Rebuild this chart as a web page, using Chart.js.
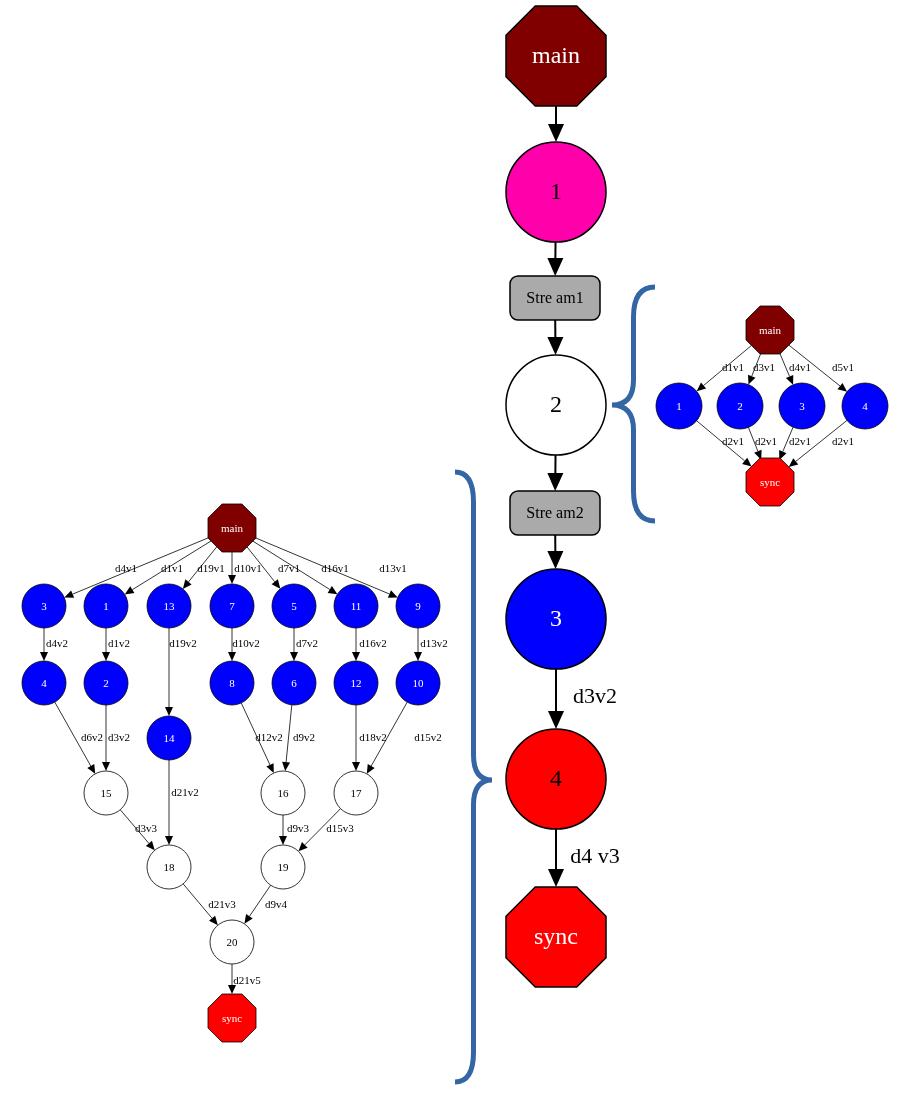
<!DOCTYPE html>
<html>
<head>
<meta charset="utf-8">
<script src="https://cdn.jsdelivr.net/npm/chart.js@4"></script>
<style>
  body { margin: 0; background: #fff; }
  #wrap { width: 904px; height: 1096px; }
</style>
</head>
<body>
<div id="wrap"><canvas id="graph" width="904" height="1096"></canvas></div>
<script>
// Nodes: [id, label, x, y, size, shape, fill, textColor, fontSize]
const nodeIds = ['M','M1','S1','M2','S2','M3','M4','MS',
  'tm','t1','t2','t3','t4','ts',
  'lm','l3','l1','l13','l7','l5','l11','l9','l4','l2','l8','l6','l12','l10','l14',
  'l15','l16','l17','l18','l19','l20','ls'];
const nodeLabels = ['main','1','Stre am1','2','Stre am2','3','4','sync',
  'main','1','2','3','4','sync',
  'main','3','1','13','7','5','11','9','4','2','8','6','12','10','14',
  '15','16','17','18','19','20','sync'];
const nodeX = [556,556,555,556,555,556,556,556,
  770,679,740,802,865,770,
  232,44,106,169,232,294,356,418,44,106,232,294,356,418,169,
  106,283,356,169,283,232,232];
const nodeY = [56,192,298,405,513,619,779,937,
  330,406,406,406,406,482,
  528,606,606,606,606,606,606,606,683,683,683,683,683,683,738,
  793,793,793,867,867,942,1018];
const nodeSize = [50,50,22,50,22,50,50,50,
  24,23,23,23,23,24,
  24,22,22,22,22,22,22,22,22,22,22,22,22,22,22,
  22,22,22,22,22,22,24];
const nodeShape = ['oct','circle','rect','circle','rect','circle','circle','oct',
  'oct','circle','circle','circle','circle','oct',
  'oct','circle','circle','circle','circle','circle','circle','circle','circle','circle','circle','circle','circle','circle','circle',
  'circle','circle','circle','circle','circle','circle','oct'];
const nodeFill = ['#800000','#ff00aa','#aaaaaa','#ffffff','#aaaaaa','#0000ff','#ff0000','#ff0000',
  '#800000','#0000ff','#0000ff','#0000ff','#0000ff','#ff0000',
  '#800000','#0000ff','#0000ff','#0000ff','#0000ff','#0000ff','#0000ff','#0000ff','#0000ff','#0000ff','#0000ff','#0000ff','#0000ff','#0000ff','#0000ff',
  '#ffffff','#ffffff','#ffffff','#ffffff','#ffffff','#ffffff','#ff0000'];

// Edges: [from, to, label, labelX, labelY]
const edgeFrom = ['M','M1','S1','M2','S2','M3','M4',
  'tm','tm','tm','tm','t1','t2','t3','t4',
  'lm','lm','lm','lm','lm','lm','lm',
  'l3','l1','l13','l7','l5','l11','l9',
  'l4','l2','l14','l8','l6','l12','l10',
  'l15','l16','l17','l18','l19','l20'];
const edgeTo = ['M1','S1','M2','S2','M3','M4','MS',
  't1','t2','t3','t4','ts','ts','ts','ts',
  'l3','l1','l13','l7','l5','l11','l9',
  'l4','l2','l14','l8','l6','l12','l10',
  'l15','l15','l18','l16','l16','l17','l17',
  'l18','l19','l19','l20','l20','ls'];
const edgeLabels = ['','','','','','d3v2','d4 v3',
  'd1v1','d3v1','d4v1','d5v1','d2v1','d2v1','d2v1','d2v1',
  'd4v1','d1v1','d19v1','d10v1','d7v1','d16v1','d13v1',
  'd4v2','d1v2','d19v2','d10v2','d7v2','d16v2','d13v2',
  'd6v2','d3v2','d21v2','d12v2','d9v2','d18v2','d15v2',
  'd3v3','d9v3','d15v3','d21v3','d9v4','d21v5'];
const edgeLabelX = [0,0,0,0,0,595,595,
  733,764,800,843,733,766,800,843,
  126,172,211,248,289,335,393,
  57,119,183,246,307,373,434,
  92,119,185,269,304,373,428,
  146,298,340,222,276,247];
const edgeLabelY = [0,0,0,0,0,697,857,
  368,368,368,368,442,442,442,442,
  569,569,569,569,569,569,569,
  644,644,644,644,644,644,644,
  738,738,793,738,738,738,738,
  829,829,829,905,905,981];

// Braces: [topX, topY, tipX, tipY, bottomY]
const braces = [[655,287,612,405,521],[455,472,492,780,1082]];

const serif = '"Liberation Serif", "DejaVu Serif", serif';

function octPath(ctx, x, y, r) {
  const R = r / Math.cos(Math.PI / 8);
  ctx.beginPath();
  for (let k = 0; k < 8; k++) {
    const a = Math.PI / 8 + k * Math.PI / 4;
    const px = x + R * Math.cos(a), py = y + R * Math.sin(a);
    k ? ctx.lineTo(px, py) : ctx.moveTo(px, py);
  }
  ctx.closePath();
}

function rectPath(ctx, x, y, h) {
  const w = 45, r = 8;
  ctx.beginPath();
  ctx.roundRect(x - w, y - h, 2 * w, 2 * h, r);
}

const graphPlugin = {
  id: 'graph',
  beforeDatasetsDraw(chart) {
    const ctx = chart.ctx, sx = chart.scales.x, sy = chart.scales.y;
    const px = i => sx.getPixelForValue(nodeX[i]);
    const py = i => sy.getPixelForValue(nodeY[i]);
    ctx.save();
    // braces
    ctx.strokeStyle = '#3465a4';
    ctx.lineWidth = 5;
    braces.forEach(([tx, ty, kx, ky, by]) => {
      const x0 = sx.getPixelForValue(tx), y0 = sy.getPixelForValue(ty);
      const x1 = sx.getPixelForValue(kx), y1 = sy.getPixelForValue(ky);
      const y2 = sy.getPixelForValue(by);
      const mid = (x0 + x1) / 2;
      ctx.beginPath();
      ctx.moveTo(x0, y0);
      ctx.quadraticCurveTo(mid, y0, mid, y0 + 30);
      ctx.lineTo(mid, y1 - 25);
      ctx.quadraticCurveTo(mid, y1, x1, y1);
      ctx.quadraticCurveTo(mid, y1, mid, y1 + 25);
      ctx.lineTo(mid, y2 - 30);
      ctx.quadraticCurveTo(mid, y2, x0, y2);
      ctx.stroke();
    });
    // edges
    ctx.strokeStyle = '#000';
    ctx.fillStyle = '#000';
    edgeFrom.forEach((f, e) => {
      const a = nodeIds.indexOf(f), b = nodeIds.indexOf(edgeTo[e]);
      const x0 = px(a), y0 = py(a), x1 = px(b), y1 = py(b);
      const dx = x1 - x0, dy = y1 - y0, len = Math.hypot(dx, dy);
      const ux = dx / len, uy = dy / len;
      const big = nodeSize[b] >= 40 || nodeShape[b] === 'rect' && nodeX[b] > 500;
      const ah = big ? 18 : 9, aw = big ? 8 : 4;
      const ex = x1 - ux * nodeSize[b], ey = y1 - uy * nodeSize[b];
      ctx.lineWidth = big ? 2 : 0.8;
      ctx.beginPath();
      ctx.moveTo(x0 + ux * nodeSize[a], y0 + uy * nodeSize[a]);
      ctx.lineTo(ex - ux * ah, ey - uy * ah);
      ctx.stroke();
      ctx.beginPath();
      ctx.moveTo(ex, ey);
      ctx.lineTo(ex - ux * ah - uy * aw, ey - uy * ah + ux * aw);
      ctx.lineTo(ex - ux * ah + uy * aw, ey - uy * ah - ux * aw);
      ctx.closePath();
      ctx.fill();
      if (edgeLabels[e]) {
        ctx.font = (big ? 22 : 11) + 'px ' + serif;
        ctx.textAlign = 'center';
        ctx.textBaseline = 'middle';
        ctx.fillText(edgeLabels[e], sx.getPixelForValue(edgeLabelX[e]), sy.getPixelForValue(edgeLabelY[e]));
      }
    });
    // nodes
    nodeIds.forEach((id, i) => {
      const x = px(i), y = py(i), r = nodeSize[i];
      if (nodeShape[i] === 'oct') octPath(ctx, x, y, r);
      else if (nodeShape[i] === 'rect') rectPath(ctx, x, y, r);
      else { ctx.beginPath(); ctx.arc(x, y, r, 0, Math.PI * 2); }
      ctx.fillStyle = nodeFill[i];
      ctx.fill();
      ctx.lineWidth = r >= 40 || nodeShape[i] === 'rect' ? 1.5 : 0.8;
      ctx.strokeStyle = '#000';
      ctx.stroke();
      const dark = ['#800000', '#0000ff'].includes(nodeFill[i]) || (nodeFill[i] === '#ff0000' && nodeShape[i] === 'oct');
      ctx.fillStyle = dark ? '#ffffff' : '#000000';
      const fs = nodeShape[i] === 'rect' ? 16 : (r >= 40 ? 24 : 11);
      ctx.font = fs + 'px ' + serif;
      ctx.textAlign = 'center';
      ctx.textBaseline = 'middle';
      ctx.fillText(nodeLabels[i], x, y + 1);
    });
    ctx.restore();
  }
};

new Chart(document.getElementById('graph'), {
  type: 'scatter',
  data: {
    datasets: [{
      data: nodeIds.map((id, i) => ({ x: nodeX[i], y: nodeY[i] })),
      pointRadius: 0
    }]
  },
  options: {
    responsive: false,
    animation: false,
    layout: { padding: 0 },
    scales: {
      x: { min: 0, max: 904, display: false },
      y: { min: 0, max: 1096, reverse: true, display: false }
    },
    plugins: { legend: { display: false }, tooltip: { enabled: false } }
  },
  plugins: [graphPlugin]
});
</script>
</body>
</html>
